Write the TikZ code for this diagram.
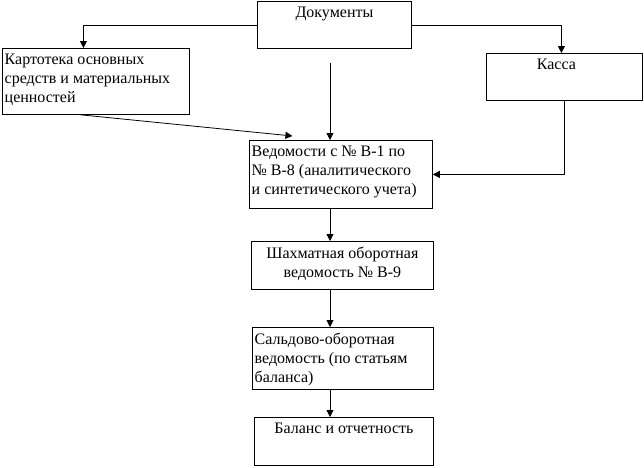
\documentclass[tikz,border=0pt]{standalone}
\usepackage{fontspec}
\setmainfont{Liberation Serif}
\usetikzlibrary{arrows.meta}
\tikzset{
  box/.style={draw=black, line width=0.8pt, anchor=north west, inner sep=0pt},
  lab/.style={text=black, font=\fontsize{16}{19}\selectfont, inner xsep=2.5pt, inner ysep=6pt},
  labl/.style={lab, anchor=north west, align=left},
  labc/.style={lab, anchor=north, align=center},
  arr/.style={draw=black, line width=0.8pt, -{Triangle[length=7pt,width=7pt]}}
}

\begin{document}
\begin{tikzpicture}[x=1pt,y=1pt]
  \useasboundingbox (0,0) rectangle (644,-467);
  \coordinate (axis) at (330,0);
  % boxes
  \node[box, minimum width=154pt, minimum height=47pt] (doc) at (257,-1) {};
  \node[box, minimum width=187pt, minimum height=66pt] (kart) at (2,-48) {};
  \node[box, minimum width=156pt, minimum height=47pt] (kassa) at (486,-53) {};
  \node[box, minimum width=183pt, minimum height=68pt] (ved) at (249,-140) {};
  \node[box, minimum width=182pt, minimum height=48pt] (shah) at (251,-241) {};
  \node[box, minimum width=181pt, minimum height=62pt] (saldo) at (252,-327) {};
  \node[box, minimum width=179pt, minimum height=48pt] (bal) at (254,-417) {};
  % texts
  \node[labc] (docT) at (doc.north) {Документы};
  \node[labl] (kartT) at (kart.north west) {Картотека основных\\средств и материальных\\ценностей};
  \node[labc] (kassaT) at ([xshift=-8pt]kassa.north) {Касса};
  \node[labl] (vedT) at (ved.north west) {Ведомости с № В-1 по\\№ В-8 (аналитического\\и синтетического учета)};
  \node[labc] (shahT) at (shah.north) {Шахматная оборотная\\ведомость № В-9};
  \node[labl] (saldoT) at (saldo.north west) {Сальдово-оборотная\\ведомость (по статьям\\баланса)};
  \node[labc] (balT) at (bal.north) {Баланс и отчетность};
  % arrows
  \coordinate (docfoot) at ([yshift=-14pt]doc.south);
  \draw[arr] (doc.west) -| ([xshift=-12.5pt]kart.north);
  \draw[arr] (doc.east) -| ([xshift=-3pt]kassa.north);
  \draw[arr] (docfoot -| axis) -- (ved.north -| axis);
  \draw[arr] ([xshift=-15.5pt]kart.south) -- ([xshift=-48.5pt,yshift=4pt]ved.north);
  \draw[arr] (kassa.south) |- (ved.east);
  \draw[arr] (ved.south -| axis) -- (shah.north -| axis);
  \draw[arr] (shah.south -| axis) -- (saldo.north -| axis);
  \draw[arr] (saldo.south -| axis) -- (bal.north -| axis);
\end{tikzpicture}
\end{document}
